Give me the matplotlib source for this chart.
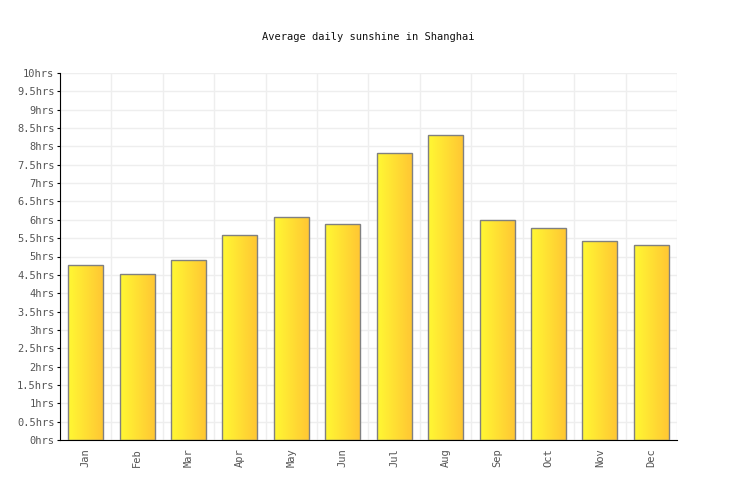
import numpy as np
import matplotlib.pyplot as plt
from matplotlib.colors import LinearSegmentedColormap

months = ["Jan", "Feb", "Mar", "Apr", "May", "Jun",
          "Jul", "Aug", "Sep", "Oct", "Nov", "Dec"]
sunshine = [4.77, 4.52, 4.9, 5.59, 6.08, 5.89, 7.82, 8.31, 5.99, 5.78, 5.42, 5.31]
yticks = np.arange(0, 10.5, 0.5)
ylabels = ["%ghrs" % v for v in yticks]

plt.rcParams['font.family'] = ['DejaVu Sans Mono']

fig = plt.figure(figsize=(7.36, 5.0), dpi=100)
ax = fig.add_axes([60 / 736, 60 / 500, 617 / 736, 367 / 500])

x = np.arange(len(months))
bars = ax.bar(x, sunshine, width=0.68, facecolor='none', edgecolor='#808080',
              linewidth=1.0, zorder=3)

# horizontal yellow -> orange fill inside each bar
cmap = LinearSegmentedColormap.from_list('sun', ['#fff833', '#ffc733'])
grad = np.linspace(0, 1, 64).reshape(1, -1)
for b in bars:
    im = ax.imshow(grad, cmap=cmap, aspect='auto', zorder=2,
                   extent=[b.get_x(), b.get_x() + b.get_width(), 0, b.get_height()])
    im.set_clip_path(b)

ax.set_xlim(-0.5, len(months) - 0.5)
ax.set_ylim(0, 10)
ax.set_yticks(yticks)
ax.set_yticklabels(ylabels, fontsize=7.5, color='#555555')
ax.set_xticks(x)
ax.set_xticklabels(months, rotation=90, fontsize=7.5, color='#555555')
ax.set_xticks(np.arange(-0.5, len(months), 1), minor=True)
ax.tick_params(axis='x', which='both', length=0, pad=6)
ax.tick_params(axis='y', length=2, width=0.8, pad=2)

ax.grid(True, axis='y', color='#eeeeee', linewidth=1, zorder=0)
ax.grid(True, axis='x', which='minor', color='#eeeeee', linewidth=1, zorder=0)
ax.set_axisbelow(True)

for s in ['top', 'right']:
    ax.spines[s].set_visible(False)

fig.text(0.5, 1 - 37 / 500, "Average daily sunshine in Shanghai", ha='center',
         va='center', fontsize=7.5, color='#111111')

fig.savefig('out.png', dpi=100)
